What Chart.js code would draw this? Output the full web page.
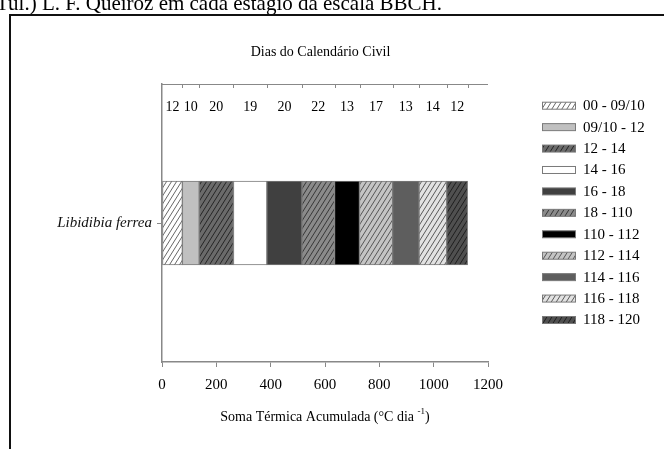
<!DOCTYPE html>
<html>
<head>
<meta charset="utf-8">
<script src="https://cdn.jsdelivr.net/npm/chart.js@4.4.1/dist/chart.umd.min.js"></script>
<style>
  html, body { margin: 0; padding: 0; background: #fff; }
  canvas { display: block; }
</style>
</head>
<body>
<canvas id="c" width="664" height="449"></canvas>
<script>
// ---- data ----
const categories = ['Libidibia ferrea'];
const stages = ['00 - 09/10', '09/10 - 12', '12 - 14', '14 - 16', '16 - 18', '18 - 110',
                '110 - 112', '112 - 114', '114 - 116', '116 - 118', '118 - 120'];
const thermalSum = [75, 62, 126, 123, 129, 120, 92, 122, 97, 102, 77];   // °C dia per stage
const calendarDays = [12, 10, 20, 19, 20, 22, 13, 17, 13, 14, 12];       // days per stage
const xTicks = [0, 200, 400, 600, 800, 1000, 1200];

const SERIF = '"Liberation Serif", "Times New Roman", serif';

// ---- fills (solid or hatched) ----
function hatch(bg, line) {
  const w = 5, h = 8;
  const t = document.createElement('canvas');
  t.width = w; t.height = h;
  const g = t.getContext('2d');
  g.fillStyle = bg; g.fillRect(0, 0, w, h);
  g.strokeStyle = line; g.lineWidth = 0.9;
  g.beginPath();
  for (let k = -1; k <= 1; k++) {
    g.moveTo(k * w, h); g.lineTo(k * w + w, 0);
  }
  g.stroke();
  return document.getElementById('c').getContext('2d').createPattern(t, 'repeat');
}
const styles = [
  ['h', '#ffffff', '#555555'],
  ['s', '#c0c0c0'],
  ['h', '#6a6a6a', '#1e1e1e'],
  ['s', '#ffffff'],
  ['s', '#404040'],
  ['h', '#8a8a8a', '#2e2e2e'],
  ['s', '#000000'],
  ['h', '#c4c4c4', '#4a4a4a'],
  ['s', '#5e5e5e'],
  ['h', '#e2e2e2', '#4a4a4a'],
  ['h', '#505050', '#1a1a1a']
];
const fills = styles.map(s => s[0] === 'h' ? hatch(s[1], s[2]) : s[1]);

const datasets = stages.map((s, i) => ({
  label: s,
  data: [thermalSum[i]],
  backgroundColor: fills[i],
  borderColor: '#7a7a7a',
  borderWidth: 1,
  borderSkipped: false,
  barThickness: 84
}));

const decor = {
  id: 'decor',
  afterDraw(chart) {
    const ctx = chart.ctx;
    const ca = chart.chartArea;
    const xs = chart.scales.x;
    ctx.save();
    // page text cut at top
    ctx.fillStyle = '#000';
    ctx.font = '21px ' + SERIF;
    ctx.textAlign = 'left'; ctx.textBaseline = 'alphabetic';
    ctx.fillText('Tul.) L. F. Queiroz em cada estágio da escala BBCH.', -4, 10);
    // frame
    ctx.strokeStyle = '#111'; ctx.lineWidth = 2;
    ctx.beginPath();
    ctx.moveTo(10, 449); ctx.lineTo(10, 15); ctx.lineTo(664, 15);
    ctx.stroke();
    // top (calendar days) axis line with ticks at stage boundaries
    ctx.strokeStyle = '#888'; ctx.lineWidth = 1;
    ctx.beginPath();
    ctx.moveTo(ca.left, ca.top + 0.5); ctx.lineTo(ca.right, ca.top + 0.5);
    let cum = 0;
    thermalSum.forEach(v => {
      cum += v;
      const px = Math.round(xs.getPixelForValue(cum)) + 0.5;
      ctx.moveTo(px, ca.top); ctx.lineTo(px, ca.top + 4);
    });
    ctx.stroke();
    // title
    ctx.fillStyle = '#000';
    ctx.font = '14px ' + SERIF;
    ctx.textAlign = 'center'; ctx.textBaseline = 'middle';
    ctx.fillText('Dias do Calendário Civil', 320.5, 52);
    // day counts above each segment
    chart.data.datasets.forEach((ds, i) => {
      const el = chart.getDatasetMeta(i).data[0];
      const cx = (el.x + el.base) / 2;
      ctx.fillText(String(calendarDays[i]), cx, 107);
    });
    // x axis title with superscript
    const a = 'Soma Térmica Acumulada (°C dia ';
    const sup = '-1';
    const b = ')';
    ctx.font = '14px ' + SERIF;
    const wa = ctx.measureText(a).width, wb = ctx.measureText(b).width;
    ctx.font = '9px ' + SERIF;
    const ws = ctx.measureText(sup).width;
    const total = wa + ws + wb;
    let x = (ca.left + ca.right) / 2 - total / 2;
    ctx.textAlign = 'left'; ctx.textBaseline = 'alphabetic';
    ctx.font = '14px ' + SERIF;
    ctx.fillText(a, x, 421);
    ctx.font = '9px ' + SERIF;
    ctx.fillText(sup, x + wa, 414);
    ctx.font = '14px ' + SERIF;
    ctx.fillText(b, x + wa + ws, 421);
    // legend
    ctx.textBaseline = 'middle';
    stages.forEach((s, i) => {
      const y = 105.7 + i * 21.43;
      ctx.fillStyle = fills[i];
      ctx.fillRect(542, y - 3.5, 33, 7);
      ctx.strokeStyle = '#7a7a7a'; ctx.lineWidth = 1;
      ctx.strokeRect(542.5, y - 3.5, 33, 7);
      ctx.fillStyle = '#000';
      ctx.font = '15px ' + SERIF;
      ctx.fillText(s, 583, y + 0.5);
    });
    ctx.restore();
  }
};

new Chart(document.getElementById('c'), {
  type: 'bar',
  data: { labels: categories, datasets },
  options: {
    indexAxis: 'y',
    responsive: false,
    animation: false,
    layout: { padding: { left: 0, right: 176, top: 84, bottom: 47 } },
    scales: {
      x: {
        stacked: true,
        min: 0, max: 1200,
        afterBuildTicks: s => { s.ticks = xTicks.map(v => ({ value: v })); },
        afterFit: s => { s.height = 40; },
        ticks: {
          font: { family: SERIF, size: 15 }, color: '#000', padding: 9,
          callback: v => String(v)
        },
        grid: { display: true, drawOnChartArea: false, tickLength: 5, color: '#888' },
        border: { display: true, color: '#888', width: 1.5 }
      },
      y: {
        stacked: true,
        afterFit: s => { s.width = 162; },
        ticks: { font: { family: SERIF, size: 15, style: 'italic' }, color: '#111', padding: 5 },
        grid: { display: true, drawOnChartArea: false, tickLength: 5, color: '#888', offset: false },
        border: { display: true, color: '#888', width: 1.5 }
      }
    },
    plugins: { legend: { display: false }, tooltip: { enabled: false }, title: { display: false } }
  },
  plugins: [decor]
});
</script>
</body>
</html>
